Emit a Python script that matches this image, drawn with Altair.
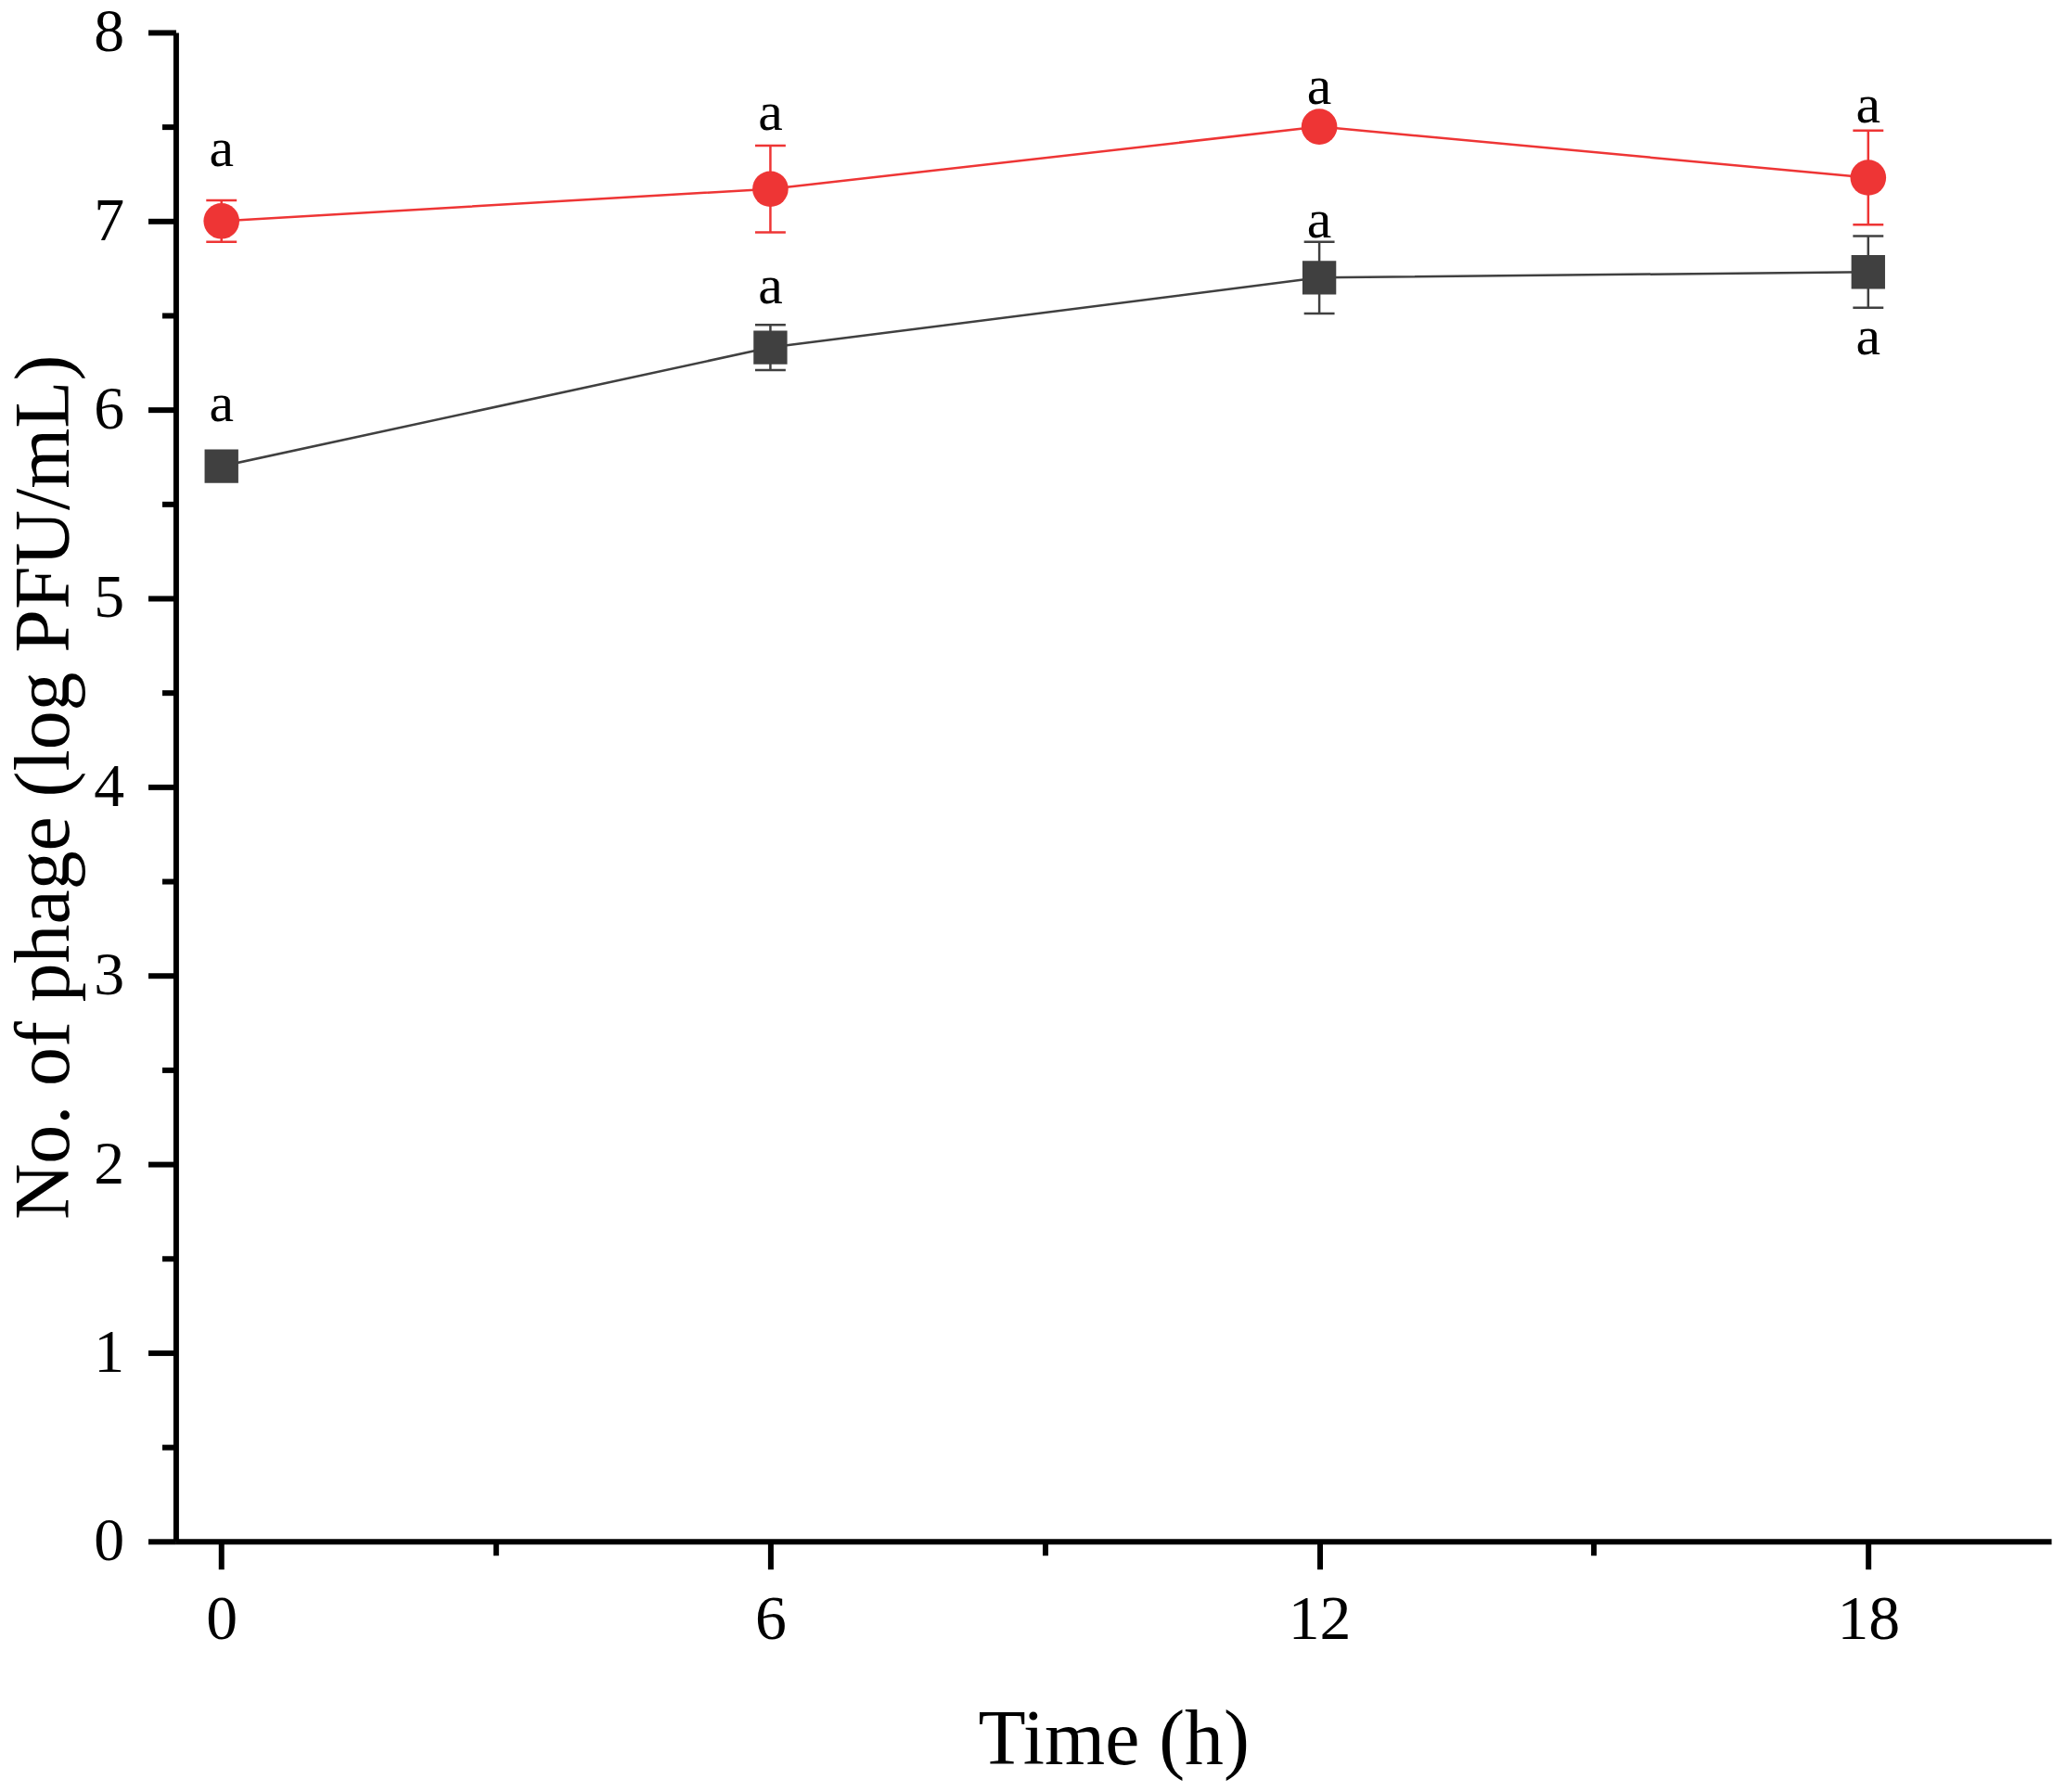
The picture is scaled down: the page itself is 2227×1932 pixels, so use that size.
import altair as alt
import pandas as pd

# ---- data ----
times = [0, 6, 12, 18]

red_mean = [7.00, 7.17, 7.50, 7.23]
red_err = [0.11, 0.23, 0.04, 0.25]
red_letter = ["a", "a", "a", "a"]
red_letter_y = [7.38, 7.57, 7.71, 7.61]

black_mean = [5.70, 6.33, 6.70, 6.73]
black_err = [0.05, 0.12, 0.19, 0.19]
black_letter = ["a", "a", "a", "a"]
black_letter_y = [6.03, 6.65, 7.00, 6.38]

x_major = [0, 6, 12, 18]
x_minor = [3, 9, 15]
y_major = [0, 1, 2, 3, 4, 5, 6, 7, 8]
y_minor = [0.5, 1.5, 2.5, 3.5, 4.5, 5.5, 6.5, 7.5]

series_names = ["red", "black"]
series_colors = ["#EE3535", "#404040"]
series_shapes = ["circle", "square"]
series_sizes = [1500, 1330]

rows = []
for name, means, errs, letters, ly in (
    ("red", red_mean, red_err, red_letter, red_letter_y),
    ("black", black_mean, black_err, black_letter, black_letter_y),
):
    for t, m, e, l, y in zip(times, means, errs, letters, ly):
        rows.append({"series": name, "time": t, "mean": m, "err": e,
                     "letter": l, "letter_y": y})
df = pd.DataFrame(rows)

FONT = "Liberation Serif"
XT = "Time (h)"
YT = "No. of phage (log PFU/mL)"

xscale = alt.Scale(domain=[-0.5, 20], nice=False, zero=False)
yscale = alt.Scale(domain=[0, 8], nice=False, zero=False)

x_axis = alt.Axis(
    values=x_major, title=XT, format="d", grid=False,
    domainColor="black", domainWidth=6, tickColor="black", tickWidth=6,
    tickSize=30, labelFont=FONT, labelFontSize=68, labelColor="black",
    labelPadding=21, labelFlush=False, labelOverlap=False,
    titleFont=FONT, titleFontSize=84, titleFontWeight="normal",
    titleColor="black", titleX=1014, titleY=240, titleBaseline="alphabetic",
    titleAlign="center", orient="bottom",
)
y_axis = alt.Axis(
    values=y_major, title=YT, format="d", grid=False,
    domainColor="black", domainWidth=6, tickColor="black", tickWidth=6,
    tickSize=30, labelFont=FONT, labelFontSize=66, labelColor="black",
    labelPadding=26, labelOverlap=False,
    titleFont=FONT, titleFontSize=84, titleFontWeight="normal",
    titleColor="black", titleX=-116, titleY=816, titleBaseline="alphabetic",
    titleAlign="center", titleAngle=270, orient="left",
)

color = alt.Color("series:N", scale=alt.Scale(domain=series_names, range=series_colors), legend=None)
shape = alt.Shape("series:N", scale=alt.Scale(domain=series_names, range=series_shapes), legend=None)
size = alt.Size("series:N", scale=alt.Scale(domain=series_names, range=series_sizes), legend=None)

X = alt.X("time:Q", scale=xscale, axis=x_axis)

base = alt.Chart(df).transform_calculate(
    lo="datum.mean - datum.err", hi="datum.mean + datum.err"
)

lines = base.mark_line(strokeWidth=2.5).encode(
    x=X, y=alt.Y("mean:Q", scale=yscale, axis=y_axis), color=color, detail="series:N"
)
bars = base.mark_rule(strokeWidth=2.5).encode(
    x=X, y=alt.Y("lo:Q", scale=yscale, axis=y_axis), y2="hi:Q", color=color
)
cap_lo = base.mark_tick(orient="horizontal", size=33, thickness=2.5, opacity=1).encode(
    x=X, y=alt.Y("lo:Q", scale=yscale, axis=y_axis), color=color
)
cap_hi = base.mark_tick(orient="horizontal", size=33, thickness=2.5, opacity=1).encode(
    x=X, y=alt.Y("hi:Q", scale=yscale, axis=y_axis), color=color
)
points = base.mark_point(filled=True, opacity=1, strokeWidth=0).encode(
    x=X, y=alt.Y("mean:Q", scale=yscale, axis=y_axis), color=color, shape=shape, size=size
)
letters = base.mark_text(font=FONT, fontSize=60, baseline="middle", align="center", color="black").encode(
    x=X, y=alt.Y("letter_y:Q", scale=yscale, axis=y_axis), text="letter:N"
)

main = alt.layer(lines, bars, cap_lo, cap_hi, points, letters)

minor = alt.Chart(df).mark_point(opacity=0).encode(
    x=alt.X("time:Q", scale=xscale, axis=alt.Axis(
        values=x_minor, title=None, labels=False, domain=False, grid=False,
        tickColor="black", tickWidth=6, tickSize=15, orient="bottom")),
    y=alt.Y("mean:Q", scale=yscale, axis=alt.Axis(
        values=y_minor, title=None, labels=False, domain=False, grid=False,
        tickColor="black", tickWidth=6, tickSize=15, orient="left")),
)

chart = alt.layer(main, minor).resolve_axis(
    x="independent", y="independent"
).resolve_scale(x="shared", y="shared").properties(
    width=2028, height=1632,
    autosize=alt.AutoSizeParams(type="none"),
    padding={"left": 182, "top": 24, "right": 8, "bottom": 260},
    background="white",
).configure_view(stroke=None)

chart.save("out.html", embed_options={"renderer": "svg", "actions": False})
